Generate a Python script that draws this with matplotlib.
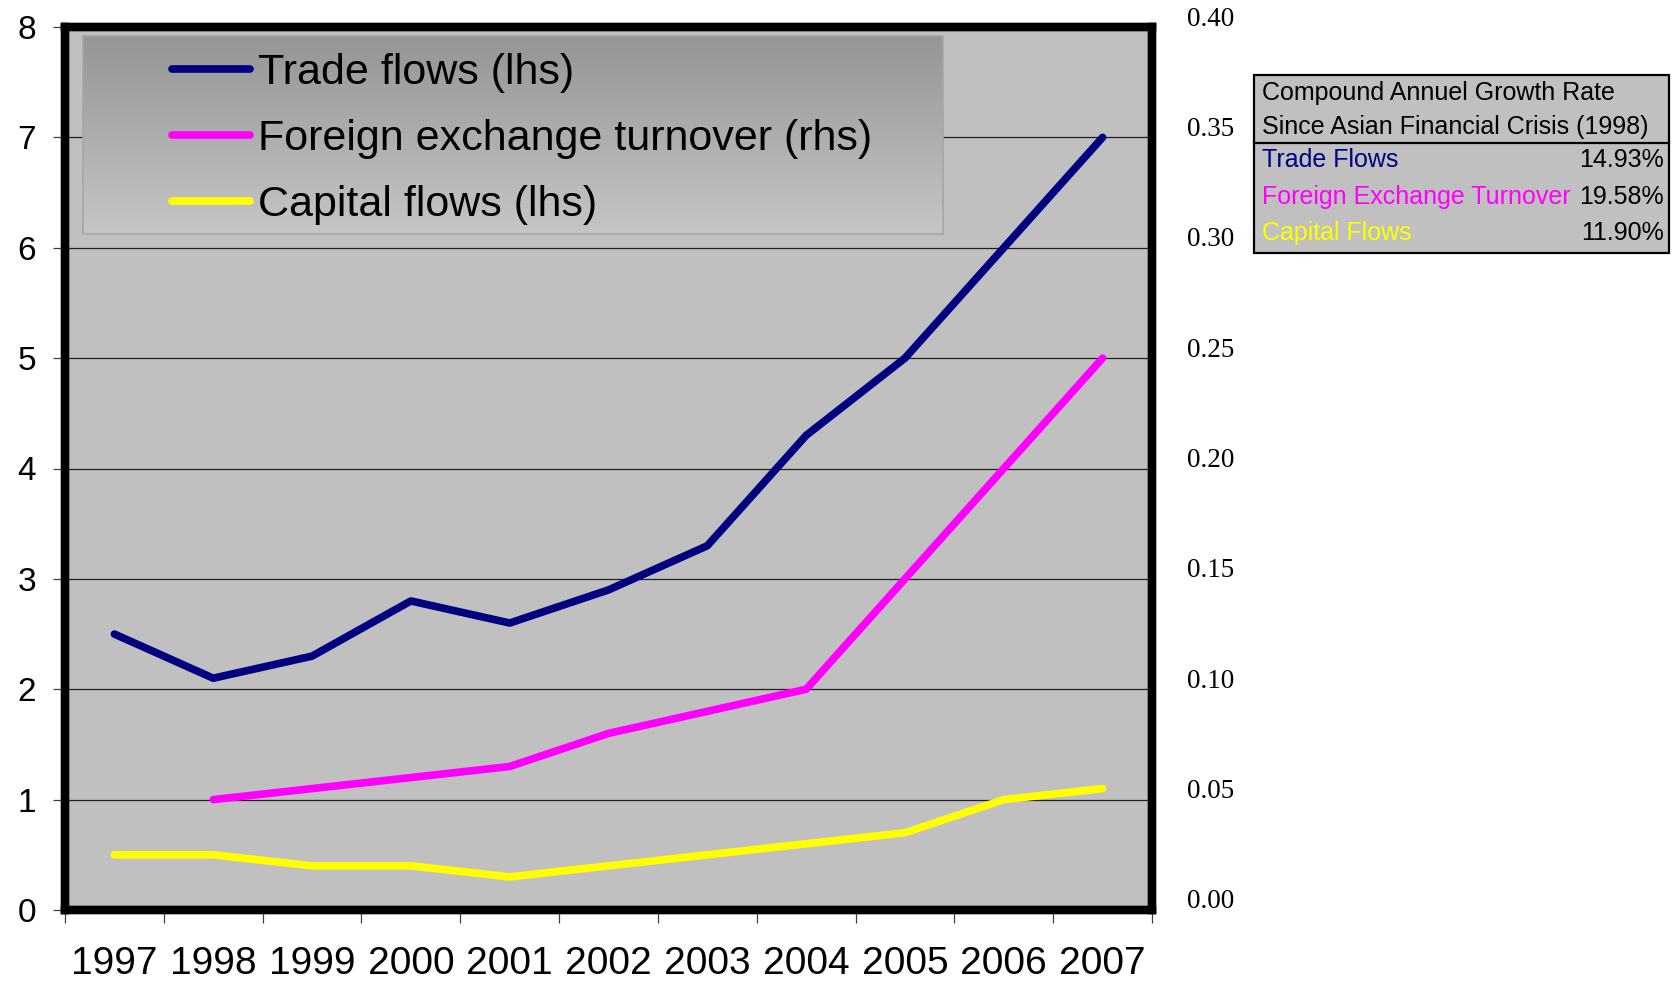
import numpy as np
import matplotlib
matplotlib.use("Agg")
import matplotlib.pyplot as plt
from matplotlib.colors import LinearSegmentedColormap
from matplotlib.patches import Rectangle
from matplotlib.lines import Line2D
import matplotlib.transforms as mtransforms

years = ["1997", "1998", "1999", "2000", "2001", "2002",
         "2003", "2004", "2005", "2006", "2007"]
trade_flows = [2.5, 2.1, 2.3, 2.8, 2.6, 2.9, 3.3, 4.3, 5.0, 6.0, 7.0]
capital_flows = [0.5, 0.5, 0.4, 0.4, 0.3, 0.4, 0.5, 0.6, 0.7, 1.0, 1.1]
# fx turnover starts in 1998, right-hand scale
fx_years = years[1:]
fx_turnover = [0.050, 0.055, 0.060, 0.065, 0.080, 0.090, 0.100, 0.150, 0.200, 0.250]

cagr_names = ["Trade Flows", "Foreign Exchange Turnover", "Capital Flows"]
cagr_values = ["14.93%", "19.58%", "11.90%"]

NAVY = "#000080"
PINK = "#FF00FF"
YELLOW = "#FFFF00"
BG = "#C0C0C0"
LW = 5.5

W, H = 1672, 981
fig = plt.figure(figsize=(W / 100, H / 100), dpi=100)


def fx(x):
    return x / W


def fy(y):
    return 1 - y / H


left, right, top, bottom = 65, 1152, 27, 910
ax = fig.add_axes([fx(left), fy(bottom), fx(right - left), (bottom - top) / H])
ax.set_facecolor(BG)
ax2 = ax.twinx()

xpos = np.arange(len(years))
fxpos = xpos[1:]

l1, = ax.plot(xpos, trade_flows, color=NAVY, lw=LW, solid_capstyle="round",
              zorder=3, label="Trade flows (lhs)")
l3, = ax.plot(xpos, capital_flows, color=YELLOW, lw=LW, solid_capstyle="round",
              zorder=3, label="Capital flows (lhs)")
l2, = ax2.plot(fxpos, fx_turnover, color=PINK, lw=LW, solid_capstyle="round",
               zorder=3, label="Foreign exchange turnover (rhs)")

ax.set_autoscale_on(False)

# legend background with gradient
lx0, lx1 = (83 - left) / (right - left), (943 - left) / (right - left)
ly0, ly1 = (bottom - 234) / (bottom - top), (bottom - 36) / (bottom - top)
cmap = LinearSegmentedColormap.from_list("g", ["#959595", "#C6C6C6"])
ax.imshow(np.linspace(0, 1, 256).reshape(-1, 1), cmap=cmap, aspect="auto",
          extent=[lx0, lx1, ly0, ly1], transform=ax.transAxes, zorder=2)
ax.add_patch(Rectangle((lx0, ly0), lx1 - lx0, ly1 - ly0, transform=ax.transAxes,
                       fill=False, edgecolor="#A6A6A6", lw=1.2, zorder=2.1))

handles = [Line2D([], [], color=NAVY, lw=LW, solid_capstyle="round"),
           Line2D([], [], color=PINK, lw=LW, solid_capstyle="round"),
           Line2D([], [], color=YELLOW, lw=LW, solid_capstyle="round")]
labels = [l1.get_label(), l2.get_label(), l3.get_label()]
leg = ax.legend(handles, labels, loc="upper left",
                bbox_to_anchor=((172 - left) / (right - left), (bottom - 53) / (bottom - top)),
                frameon=False, borderaxespad=0, borderpad=0, handlelength=1.8,
                handletextpad=0.2, labelspacing=0.6,
                prop={"family": "Liberation Sans", "size": 31})
leg.set_zorder(4)

ax.set_xlim(-0.5, len(years) - 0.5)
ax.set_ylim(0, 8)
ax2.set_ylim(0, 0.40)

ax.set_yticks(range(0, 9))
ax.grid(axis="y", color="#202020", lw=0.9, zorder=1)
ax.set_axisbelow(True)
ax.tick_params(axis="y", direction="out", length=9, width=0.9, pad=12,
               labelsize=24, color="#404040")
for t in ax.get_yticklabels():
    t.set_family("Liberation Sans")

ax.set_xticks(xpos)
ax.set_xticklabels(years, family="Liberation Sans", fontsize=28)
ax.set_xticks(np.arange(-0.5, len(years)), minor=True)
ax.tick_params(axis="x", which="major", length=0, pad=26)
ax.tick_params(axis="x", which="minor", direction="out", length=9, width=0.9,
               color="#404040")

ax2.set_yticks(np.arange(0, 0.41, 0.05))
ax2.set_yticklabels(["%.2f" % v for v in np.arange(0, 0.41, 0.05)],
                    family="Liberation Serif", fontsize=19.5)
ax2.tick_params(axis="y", length=0, pad=25)
off = mtransforms.ScaledTranslation(0, 11 / 100, fig.dpi_scale_trans)
for t in ax2.get_yticklabels():
    t.set_transform(t.get_transform() + off)

for a in (ax, ax2):
    for s in a.spines.values():
        s.set_linewidth(6)
        s.set_color("black")

# growth rate table on the right
tx0, tx1, ty0, ty1 = 1254, 1669, 75, 253
fig.add_artist(Rectangle((fx(tx0), fy(ty1)), fx(tx1 - tx0), (ty1 - ty0) / H,
                         transform=fig.transFigure, facecolor=BG,
                         edgecolor="black", lw=1.6))
fig.add_artist(Line2D([fx(tx0), fx(tx1)], [fy(143), fy(143)],
                      transform=fig.transFigure, color="black", lw=1.6))
tf = {"family": "Liberation Sans", "fontsize": 18, "va": "center"}
fig.text(fx(1262), fy(93), "Compound Annuel Growth Rate", color="black", **tf)
fig.text(fx(1262), fy(127), "Since Asian Financial Crisis (1998)", color="black", **tf)
row_y = [160, 197, 233]
row_c = [NAVY, PINK, YELLOW]
for name, val, yy, c in zip(cagr_names, cagr_values, row_y, row_c):
    fig.text(fx(1262), fy(yy), name, color=c, **tf)
    fig.text(fx(1664), fy(yy), val, color="black", ha="right", **tf)

fig.savefig("out.png", dpi=100)
